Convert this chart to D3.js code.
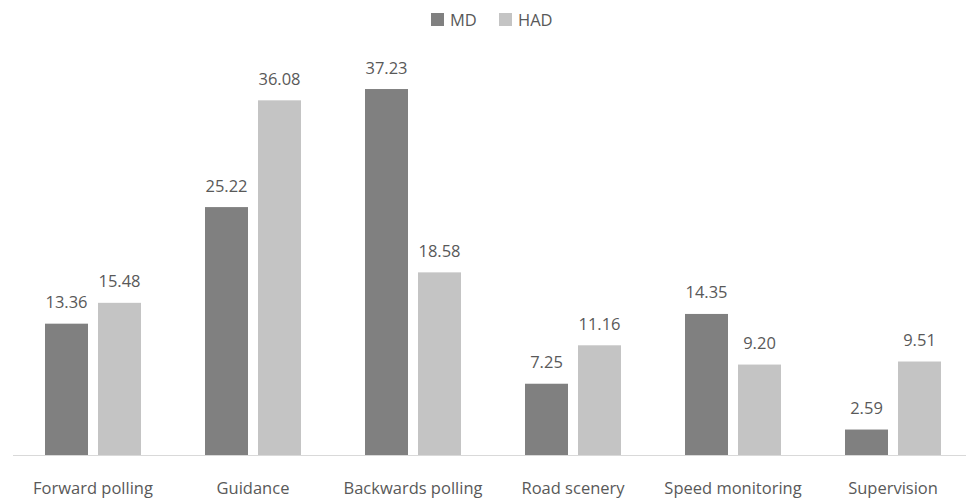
<!DOCTYPE html>
<html>
<head>
<meta charset="utf-8">
<script src="https://cdn.jsdelivr.net/npm/d3@7"></script>
<style>
  body { margin: 0; background: #fff; }
  text { font-family: "Open Sans", "Noto Sans", sans-serif; fill: #595959; }
</style>
</head>
<body>
<svg id="chart" width="966" height="499"></svg>
<script>
const categories = ['Forward polling', 'Guidance', 'Backwards polling', 'Road scenery', 'Speed monitoring', 'Supervision']
const seriesNames = ['MD', 'HAD']
const mdValues = [13.36, 25.22, 37.23, 7.25, 14.35, 2.59]
const hadValues = [15.48, 36.08, 18.58, 11.16, 9.20, 9.51]
const colors = ['#808080', '#c4c4c4']

const svg = d3.select('#chart')
const baseY = 455
const fontSize = 16.5

const rows = categories.map((c, i) => ({ cat: c, vals: [mdValues[i], hadValues[i]] }))

const x0 = d3.scaleBand().domain(categories).range([13, 973]).paddingInner(0).paddingOuter(0)
const x1 = d3.scaleBand().domain(seriesNames).range([32, 128]).paddingInner(10 / 53)
const y = d3.scaleLinear().domain([0, 40]).range([baseY, baseY - 393.2])

// axis line
svg.append('line')
    .attr('x1', 13).attr('x2', 966)
    .attr('y1', baseY + 0.5).attr('y2', baseY + 0.5)
    .attr('stroke', '#d9d9d9').attr('stroke-width', 1)

const groups = svg.selectAll('.grp')
    .data(rows)
    .join('g')
    .attr('class', 'grp')
    .attr('transform', d => 'translate(' + x0(d.cat) + ',0)')

groups.selectAll('rect')
    .data(d => d.vals.map((v, k) => ({ key: seriesNames[k], v: v, k: k })))
    .join('rect')
    .attr('x', d => x1(d.key))
    .attr('width', x1.bandwidth())
    .attr('y', d => y(d.v))
    .attr('height', d => baseY - y(d.v))
    .attr('fill', d => colors[d.k])

groups.selectAll('.val')
    .data(d => d.vals.map((v, k) => ({ key: seriesNames[k], v: v })))
    .join('text')
    .attr('class', 'val')
    .attr('x', d => x1(d.key) + x1.bandwidth() / 2)
    .attr('y', d => y(d.v) - 15.5)
    .attr('text-anchor', 'middle')
    .attr('font-size', fontSize)
    .text(d => d.v.toFixed(2))

// category labels
const xAxis = svg.append('g').attr('transform', 'translate(0,' + baseY + ')')
xAxis.call(d3.axisBottom(x0).tickSize(0))
xAxis.select('.domain').remove()
xAxis.selectAll('.tick text')
    .attr('y', 39)
    .attr('dy', 0)
    .attr('font-size', fontSize)
    .attr('font-family', '"Open Sans", "Noto Sans", sans-serif')
    .attr('fill', '#595959')

// legend
const legend = svg.append('g')
const legendX = [431, 499]
seriesNames.forEach((s, i) => {
    legend.append('rect')
        .attr('x', legendX[i]).attr('y', 13)
        .attr('width', 13).attr('height', 13)
        .attr('fill', colors[i])
    legend.append('text')
        .attr('x', legendX[i] + 19).attr('y', 26)
        .attr('font-size', fontSize)
        .text(s)
})
</script>
</body>
</html>
